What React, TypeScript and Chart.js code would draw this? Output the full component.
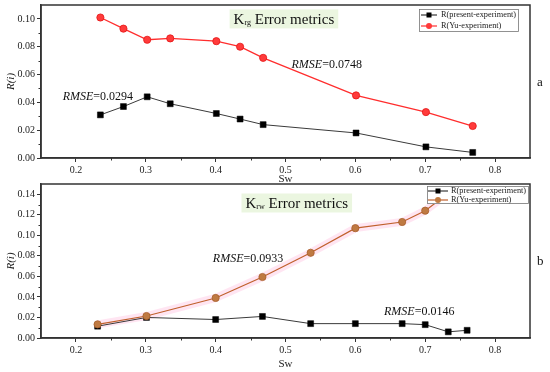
import { useEffect, useRef } from 'react';
import { Chart, registerables } from 'chart.js';
Chart.register(...registerables);

const FONT = "'Liberation Serif', 'Times New Roman', serif";

// ---- Data (panel a: Krg) ----
const krgSw = [0.235, 0.268, 0.302, 0.335, 0.401, 0.435, 0.468, 0.601, 0.701, 0.768];
const krgPresent = [0.031, 0.037, 0.044, 0.039, 0.032, 0.028, 0.024, 0.018, 0.008, 0.004];
const krgYu = [0.101, 0.093, 0.085, 0.086, 0.084, 0.080, 0.072, 0.045, 0.033, 0.023];

// ---- Data (panel b: Krw) ----
const krwSw = [0.231, 0.301, 0.400, 0.467, 0.536, 0.600, 0.667, 0.700, 0.733, 0.760];
const krwPresent = [0.0115, 0.020, 0.018, 0.021, 0.014, 0.014, 0.014, 0.013, 0.006, 0.0075];
const krwYu = [0.0133, 0.0214, 0.039, 0.0594, 0.083, 0.107, 0.113, 0.124, 0.141, 0.144];

// ---- Ticks ----
const xTicks = [0.2, 0.3, 0.4, 0.5, 0.6, 0.7, 0.8];
const xMinor = [0.25, 0.35, 0.45, 0.55, 0.65, 0.75];
const krgYTicks = [0, 0.02, 0.04, 0.06, 0.08, 0.10];
const krgYMinor = [0.01, 0.03, 0.05, 0.07, 0.09];
const krwYTicks = [0, 0.02, 0.04, 0.06, 0.08, 0.10, 0.12, 0.14];
const krwYMinor = [0.01, 0.03, 0.05, 0.07, 0.09, 0.11, 0.13];

const legendLabels = ['R(present-experiment)', 'R(Yu-experiment)'];

const AXIS = '#333';

const decor = {
  id: 'decor',
  afterDatasetsDraw(chart: any, _a: any, o: any) {
    const { ctx, chartArea: ca, scales } = chart;
    const x = scales.x, y = scales.y;
    ctx.save();
    // frame
    ctx.strokeStyle = AXIS;
    ctx.lineWidth = 1.5;
    ctx.strokeRect(ca.left, ca.top, ca.right - ca.left, ca.bottom - ca.top);
    // minor ticks
    ctx.lineWidth = 1;
    ctx.beginPath();
    o.xMinor.forEach((v: number) => {
      const px = Math.round(x.getPixelForValue(v)) + 0.5;
      ctx.moveTo(px, ca.bottom);
      ctx.lineTo(px, ca.bottom + 2.5);
    });
    o.yMinor.forEach((v: number) => {
      const py = Math.round(y.getPixelForValue(v)) + 0.5;
      ctx.moveTo(ca.left, py);
      ctx.lineTo(ca.left - 2.5, py);
    });
    ctx.stroke();

    // title box
    const tb = o.titleBox;
    const tx = x.getPixelForValue(tb.x);
    const ty = y.getPixelForValue(tb.y);
    ctx.font = `15px ${FONT}`;
    const wK = ctx.measureText('K').width;
    const wRest = ctx.measureText(' Error metrics').width;
    ctx.font = `8px ${FONT}`;
    const wSub = ctx.measureText(tb.sub).width;
    const total = wK + wSub + wRest;
    ctx.fillStyle = '#ebf6e0';
    ctx.fillRect(tx, ty - 9.5, total + 8, 19);
    ctx.fillStyle = '#111';
    ctx.textBaseline = 'alphabetic';
    ctx.textAlign = 'left';
    ctx.font = `15px ${FONT}`;
    ctx.fillText('K', tx + 4, ty + 5);
    ctx.font = `8px ${FONT}`;
    ctx.fillText(tb.sub, tx + 4 + wK, ty + 6);
    ctx.font = `15px ${FONT}`;
    ctx.fillText(' Error metrics', tx + 4 + wK + wSub, ty + 5);

    // RMSE labels
    o.rmse.forEach((r: any) => {
      const px = x.getPixelForValue(r.x);
      const py = y.getPixelForValue(r.y);
      ctx.textBaseline = 'middle';
      ctx.font = `italic 12px ${FONT}`;
      ctx.fillStyle = '#111';
      ctx.fillText('RMSE', px, py);
      const w = ctx.measureText('RMSE').width;
      ctx.font = `12px ${FONT}`;
      ctx.fillText('=' + r.text, px + w, py);
    });

    // legend
    const lg = o.legend;
    ctx.fillStyle = '#fff';
    ctx.fillRect(lg.left, lg.top, lg.width, lg.height);
    ctx.strokeStyle = '#777';
    ctx.lineWidth = 0.8;
    ctx.strokeRect(lg.left + 0.5, lg.top + 0.5, lg.width - 1, lg.height - 1);
    lg.items.forEach((it: any, i: number) => {
      const ry = lg.top + lg.rowStart + i * lg.rowGap;
      ctx.strokeStyle = it.line;
      ctx.lineWidth = 1.2;
      ctx.beginPath();
      ctx.moveTo(lg.left + lg.lineStart, ry);
      ctx.lineTo(lg.left + lg.lineEnd, ry);
      ctx.stroke();
      const mx = lg.left + (lg.lineStart + lg.lineEnd) / 2;
      ctx.fillStyle = it.fill;
      if (it.square) {
        ctx.fillRect(mx - 2.5, ry - 2.5, 5, 5);
      } else {
        ctx.beginPath();
        ctx.arc(mx, ry, 3, 0, Math.PI * 2);
        ctx.fill();
      }
      ctx.fillStyle = '#222';
      ctx.font = `8.3px ${FONT}`;
      ctx.textBaseline = 'middle';
      ctx.fillText(it.label, lg.left + lg.textStart, ry);
    });

    // panel letter
    ctx.fillStyle = '#111';
    ctx.font = `13px ${FONT}`;
    ctx.textBaseline = 'middle';
    ctx.fillText(o.letter, ca.right + 7, o.letterY);
    ctx.restore();
  },
};

function makeConfig(p: any): any {
  return {
    type: 'line',
    data: { datasets: p.datasets },
    options: {
      animation: false,
      responsive: false,
      events: [],
      layout: { padding: { top: p.padTop, right: 20, left: 0, bottom: 0 } },
      plugins: {
        legend: { display: false },
        tooltip: { enabled: false },
        decor: p.decor,
      },
      scales: {
        x: {
          type: 'linear',
          min: 0.15,
          max: 0.85,
          afterBuildTicks: (ax: any) => {
            ax.ticks = xTicks.map((v) => ({ value: v }));
          },
          afterFit: (ax: any) => {
            ax.height = p.xAxisHeight;
            ax.paddingLeft = 0;
            ax.paddingRight = 0;
          },
          grid: { drawOnChartArea: false, drawTicks: true, tickLength: 4, color: AXIS, tickWidth: 1 },
          border: { color: AXIS, width: 1.5 },
          ticks: {
            font: { family: FONT, size: 10 },
            color: '#222',
            padding: 2,
            maxRotation: 0,
            autoSkip: false,
            callback: (v: any) => Number(v).toFixed(1),
          },
          title: {
            display: true,
            text: 'Sw',
            font: { family: FONT, size: 11 },
            color: '#222',
            padding: { top: 0, bottom: p.titlePad },
          },
        },
        y: {
          type: 'linear',
          min: 0,
          max: p.yMax,
          afterBuildTicks: (ax: any) => {
            ax.ticks = p.yTicks.map((v: number) => ({ value: v }));
          },
          afterFit: (ax: any) => {
            ax.width = 41;
            ax.paddingTop = 0;
            ax.paddingBottom = 0;
          },
          grid: { drawOnChartArea: false, drawTicks: true, tickLength: 4, color: AXIS, tickWidth: 1 },
          border: { color: AXIS, width: 1.5 },
          ticks: {
            font: { family: FONT, size: 10 },
            color: '#222',
            padding: 2,
            autoSkip: false,
            callback: (v: any) => Number(v).toFixed(2),
          },
          title: {
            display: true,
            text: 'R(i)',
            font: { family: FONT, size: 11, style: 'italic' },
            color: '#222',
            padding: { top: 5, bottom: 0 },
          },
        },
      },
    },
    plugins: [decor],
  };
}

const pts = (xs: number[], ys: number[]) => xs.map((v, i) => ({ x: v, y: ys[i] }));

function configA() {
  return makeConfig({
    padTop: 5,
    xAxisHeight: 28,
    titlePad: 0.4,
    yMax: 0.11,
    yTicks: krgYTicks,
    datasets: [
      {
        label: legendLabels[0],
        data: pts(krgSw, krgPresent),
        borderColor: '#3a3a3a',
        borderWidth: 1,
        pointStyle: 'rect',
        pointRadius: 4.2,
        pointBackgroundColor: '#000',
        pointBorderColor: '#000',
        pointBorderWidth: 0.5,
      },
      {
        label: legendLabels[1],
        data: pts(krgSw, krgYu),
        borderColor: '#ff2d2d',
        borderWidth: 1.3,
        pointStyle: 'circle',
        pointRadius: 3.6,
        pointBackgroundColor: '#ff3b3b',
        pointBorderColor: '#e51515',
        pointBorderWidth: 0.8,
      },
    ],
    decor: {
      xMinor,
      yMinor: krgYMinor,
      titleBox: { x: 0.42, y: 0.100, sub: 'rg' },
      rmse: [
        { x: 0.181, y: 0.0439, text: '0.0294' },
        { x: 0.5086, y: 0.0669, text: '0.0748' },
      ],
      legend: {
        left: 419, top: 9, width: 100, height: 23,
        rowStart: 6, rowGap: 11, lineStart: 2, lineEnd: 18, textStart: 22,
        items: [
          { label: legendLabels[0], line: '#3a3a3a', fill: '#000', square: true },
          { label: legendLabels[1], line: '#ff2d2d', fill: '#ff3b3b', square: false },
        ],
      },
      letter: 'a',
      letterY: 83,
    },
  });
}

function configB() {
  return makeConfig({
    padTop: 8,
    xAxisHeight: 34,
    titlePad: 1.4,
    yMax: 0.15,
    yTicks: krwYTicks,
    datasets: [
      {
        label: 'halo',
        data: pts(krwSw, krwYu),
        borderColor: 'rgba(255,160,210,0.28)',
        borderWidth: 8,
        pointRadius: 0,
        order: 10,
      },
      {
        label: legendLabels[0],
        data: pts(krwSw, krwPresent),
        borderColor: '#3a3a3a',
        borderWidth: 1,
        pointStyle: 'rect',
        pointRadius: 4.2,
        pointBackgroundColor: '#000',
        pointBorderColor: '#000',
        pointBorderWidth: 0.5,
        order: 2,
      },
      {
        label: legendLabels[1],
        data: pts(krwSw, krwYu),
        borderColor: '#c0602c',
        borderWidth: 1.2,
        pointStyle: 'circle',
        pointRadius: 3.6,
        pointBackgroundColor: '#bf7a42',
        pointBorderColor: '#a85f2c',
        pointBorderWidth: 0.8,
        order: 1,
      },
    ],
    decor: {
      xMinor,
      yMinor: krwYMinor,
      titleBox: { x: 0.437, y: 0.1315, sub: 'rw' },
      rmse: [
        { x: 0.396, y: 0.077, text: '0.0933' },
        { x: 0.641, y: 0.0253, text: '0.0146' },
      ],
      legend: {
        left: 427, top: 10, width: 102, height: 18,
        rowStart: 5, rowGap: 9, lineStart: 1, lineEnd: 21, textStart: 24,
        items: [
          { label: legendLabels[0], line: '#3a3a3a', fill: '#000', square: true },
          { label: legendLabels[1], line: '#c0602c', fill: '#bf7a42', square: false },
        ],
      },
      letter: 'b',
      letterY: 86,
    },
  });
}

function Panel({ make, top, height }: { make: () => any; top: number; height: number }) {
  const ref = useRef<HTMLCanvasElement>(null);
  useEffect(() => {
    const chart = new Chart(ref.current as HTMLCanvasElement, make());
    return () => chart.destroy();
  }, []);
  return (
    <div style={{ position: 'absolute', left: 0, top, width: 550, height }}>
      <canvas ref={ref} width={550} height={height} style={{ width: 550, height, display: 'block' }} />
    </div>
  );
}

export default function App() {
  return (
    <div style={{ position: 'absolute', left: 0, top: 0, width: 550, height: 372, background: '#fff' }}>
      <Panel make={configA} top={0} height={186} />
      <Panel make={configB} top={176} height={196} />
    </div>
  );
}
